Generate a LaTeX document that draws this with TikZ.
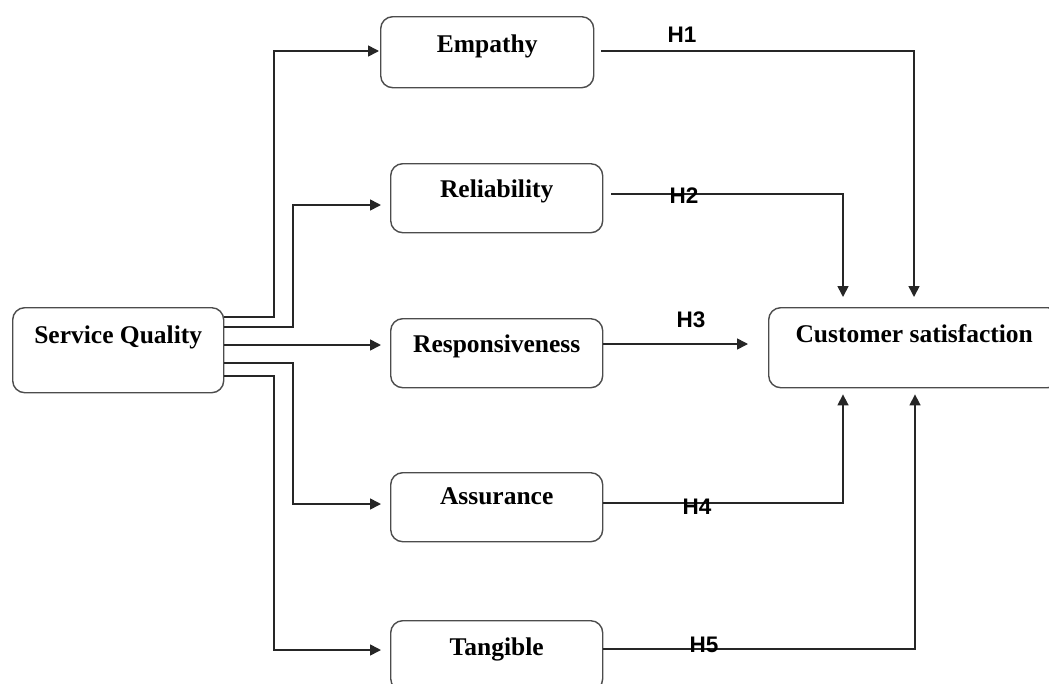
\documentclass[tikz,border=0pt]{standalone}
\usepackage{fontspec}
\setmainfont{Liberation Serif}
\newfontfamily\hfont{Liberation Sans}
\usetikzlibrary{arrows.meta}
\begin{document}
\begin{tikzpicture}[x=1pt,y=-1pt,
  box/.style={draw=black!70,line width=1.4pt,rounded corners=12pt,inner sep=0pt,
    anchor=north west,align=center,font=\bfseries\fontsize{25.5}{30}\selectfont},
  hlab/.style={font=\hfont\bfseries\fontsize{22.5}{27}\selectfont,inner sep=0pt},
  arr/.style={draw=black!85,line width=1.6pt,-{Triangle[length=11pt,width=11pt]}},
  ln/.style={draw=black!85,line width=1.6pt}]
\useasboundingbox (0,0) rectangle (1049,683);
\node[box,minimum width=211pt,text height=36pt,text depth=49pt] (sq) at (12,307) {Service Quality};
\node[box,minimum width=213pt,text height=36pt,text depth=35pt] (emp) at (380,16) {Empathy};
\node[box,minimum width=212pt,text height=34pt,text depth=35pt] (rel) at (390,163) {Reliability};
\node[box,minimum width=212pt,text height=34pt,text depth=35pt] (resp) at (390,318) {Responsiveness};
\node[box,minimum width=212pt,text height=32pt,text depth=37pt] (ass) at (390,472) {Assurance};
\node[box,minimum width=212pt,text height=35pt,text depth=35pt] (tan) at (390,620) {Tangible};
\node[box,minimum width=291pt,text height=35pt,text depth=45pt] (cs) at (768,307) {Customer satisfaction};
% inputs
\draw[arr] (sq.east |- 0,317) -| (274,51) -- ([xshift=-1pt]emp.west |- 0,51);
\draw[arr] (sq.east |- 0,327) -| (293,205) -- ([xshift=-9pt]rel.west |- 0,205);
\draw[arr] (sq.east |- 0,345) -- ([xshift=-9pt]resp.west |- 0,345);
\draw[arr] (sq.east |- 0,363) -| (293,504) -- ([xshift=-9pt]ass.west |- 0,504);
\draw[arr] (sq.east |- 0,376) -| (274,650) -- ([xshift=-9pt]tan.west |- 0,650);
% outputs
\draw[arr] ([xshift=7pt]emp.east |- 0,51) -| ([yshift=10pt]cs.north -| 914,0);
\draw[arr] ([xshift=8pt]rel.east |- 0,194) -| ([yshift=10pt]cs.north -| 843,0);
\draw[arr] (resp.east |- 0,344) -- ([xshift=-20pt]cs.west |- 0,344);
\draw[arr] (ass.east |- 0,503) -| ([yshift=-6pt]cs.south -| 843,0);
\draw[arr] (tan.east |- 0,649) -| ([yshift=-6pt]cs.south -| 915,0);
% labels
\node[hlab] (h1) at (682,35) {H1};
\node[hlab] (h2) at (684,196) {H2};
\node[hlab] (h3) at (691,320) {H3};
\node[hlab] (h4) at (697,507) {H4};
\node[hlab] (h5) at (704,645) {H5};
\end{tikzpicture}
\end{document}
